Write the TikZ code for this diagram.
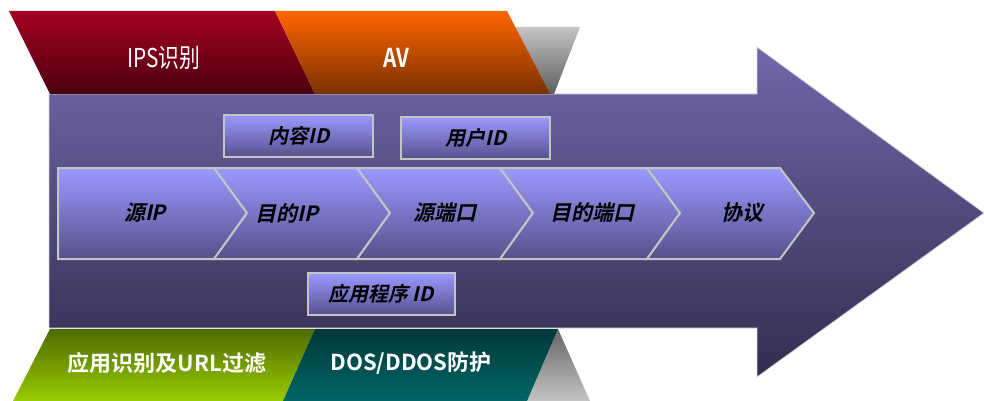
\documentclass[tikz,border=0pt]{standalone}
\usepackage{fontspec}
\newfontfamily\cjk{Noto Sans CJK SC}[BoldFont={Noto Sans CJK SC Bold}]
\newfontfamily\cjki{Noto Sans CJK SC}[BoldFont={Noto Sans CJK SC Bold},FakeSlant=0.22]
\definecolor{arrTop}{HTML}{7068AA}
\definecolor{arrBot}{HTML}{342C4E}
\definecolor{chTop}{HTML}{9A9AFF}
\definecolor{chBot}{HTML}{57508C}
\definecolor{rimgray}{HTML}{C4C4C4}
\definecolor{grLight}{HTML}{C4C4C4}
\definecolor{grDark}{HTML}{5E5E5E}
\definecolor{grDark2}{HTML}{666666}
\definecolor{redTop}{RGB}{165,0,33}
\definecolor{redBot}{RGB}{75,0,15}
\definecolor{orTop}{RGB}{255,102,0}
\definecolor{orBot}{RGB}{122,48,0}
\definecolor{gnTop}{RGB}{78,106,0}
\definecolor{gnBot}{RGB}{153,204,0}
\definecolor{tlTop}{RGB}{0,56,56}
\definecolor{tlBot}{RGB}{0,102,102}
\tikzset{
  chev/.style={top color=chTop, bottom color=chBot, draw=rimgray, line width=2pt, line join=miter},
  idbox/.style={top color=chTop, bottom color=chBot, draw=rimgray, line width=2.5pt},
  intext/.style={font=\cjki\bfseries\fontsize{20}{24}\selectfont, text=black},
  chtext/.style={font=\cjki\bfseries\fontsize{21}{25}\selectfont, text=black},
  bandtext/.style={font=\cjk\bfseries\fontsize{22}{26}\selectfont, text=white},
}
\begin{document}
\begin{tikzpicture}[x=1pt,y=-1pt]
\useasboundingbox (0,0) rectangle (984,401);
% big arrow
\shade[top color=arrTop, bottom color=arrBot, draw=rimgray!70, line width=0.8pt]
  (49,94) -- (757,94) -- (757,47) -- (984,213) -- (757,377) -- (757,328) -- (49,328) -- cycle;
% top bands
\shade[top color=grLight, bottom color=grDark] (512,27) -- (580,27) -- (554,94) -- (549,94) -- cycle;
\shade[top color=redTop, bottom color=redBot] (9,11) -- (275,11) -- (315,94) -- (50,94) -- cycle;
\shade[top color=orTop, bottom color=orBot] (275,11) -- (507,11) -- (550,94) -- (315,94) -- cycle;
% bottom bands
\shade[top color=grDark2, bottom color=grLight] (558,329) -- (590,401) -- (527,401) -- cycle;
\shade[top color=gnTop, bottom color=gnBot] (50,329) -- (315,329) -- (283,401) -- (13,401) -- cycle;
\shade[top color=tlTop, bottom color=tlBot] (315,329) -- (558,329) -- (527,401) -- (283,401) -- cycle;
% chevrons
\shade[chev] (58,168) -- (214,168) -- (247,213) -- (214,259) -- (58,259) -- cycle;
\shade[chev] (214,168) -- (357,168) -- (390,213) -- (357,259) -- (214,259) -- (247,213) -- cycle;
\shade[chev] (357,168) -- (500,168) -- (533,213) -- (500,259) -- (357,259) -- (390,213) -- cycle;
\shade[chev] (500,168) -- (647,168) -- (680,213) -- (647,259) -- (500,259) -- (533,213) -- cycle;
\shade[chev] (647,168) -- (780,168) -- (814,213) -- (780,259) -- (647,259) -- (680,213) -- cycle;
% boxes
\shade[idbox] (224,115) rectangle (373,157);
\shade[idbox] (401,117) rectangle (550,159);
\shade[idbox] (308,273) rectangle (455,315);
% texts
\node[chtext] (c1) at (145,213) {源IP};
\node[chtext] (c2) at (287,213) {目的IP};
\node[chtext] (c3) at (445,213) {源端口};
\node[chtext] (c4) at (592,213) {目的端口};
\node[chtext] (c5) at (742,213) {协议};
\node[intext] (b1) at (299,136) {内容ID};
\node[intext] (b2) at (476,138) {用户ID};
\node[intext] (b3) at (381,294) {应用程序 ID};
\node[font=\cjk\fontsize{26}{30}\selectfont, text=white] (t1) at (164,58) {\scalebox{0.8}[1]{IPS识别}};
\node[font=\cjk\bfseries\fontsize{26}{30}\selectfont, text=white] (t2) at (396,58) {\scalebox{0.8}[1]{AV}};
\node[bandtext] (l1) at (167,363) {应用识别及URL过滤};
\node[bandtext] (l2) at (411,363) {DOS/DDOS防护};
\end{tikzpicture}
\end{document}
